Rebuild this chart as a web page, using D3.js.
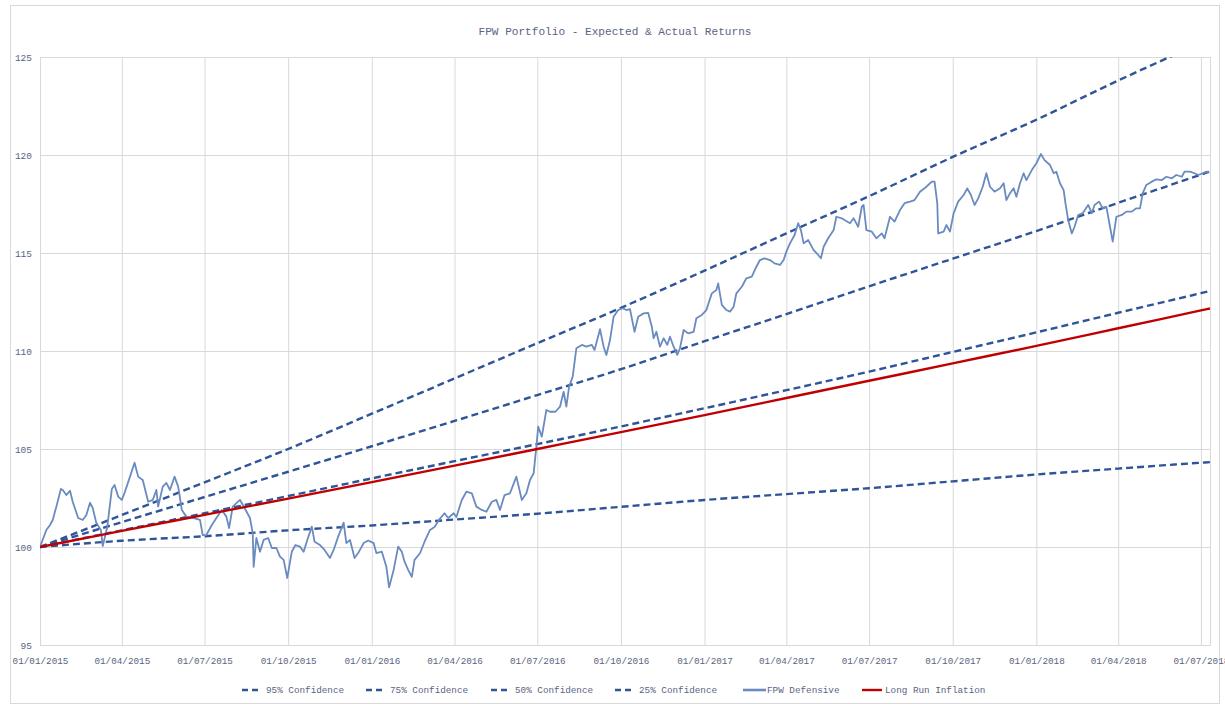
<!DOCTYPE html>
<html>
<head>
<meta charset="utf-8">
<script src="https://cdn.jsdelivr.net/npm/d3@7"></script>
<style>
  body { margin: 0; background: #fff; }
  svg text { font-family: "Liberation Mono", "Courier New", monospace; fill: #5a6482; }
</style>
</head>
<body>
<div id="chart"></div>
<script>
// quarter ticks on the x axis
const quarterLabels = ["01/01/2015", "01/04/2015", "01/07/2015", "01/10/2015",
  "01/01/2016", "01/04/2016", "01/07/2016", "01/10/2016",
  "01/01/2017", "01/04/2017", "01/07/2017", "01/10/2017",
  "01/01/2018", "01/04/2018", "01/07/2018"];
const lastDate = "11/07/2018";
const yTicks = [95, 100, 105, 110, 115, 120, 125];

// expected return bands, one value per quarter + last date
const conf95 = [100, 101.63, 103.3, 105.0, 106.8, 108.6, 110.4, 112.2, 114.1, 116.0, 117.9, 119.9, 121.8, 123.8, 125.7, 125.9];
const conf75 = [100, 101.27, 102.55, 103.84, 105.14, 106.43, 107.75, 109.07, 110.5, 111.88, 113.3, 114.71, 116.12, 117.56, 119.0, 119.16];
const conf50 = [100, 100.85, 101.72, 102.6, 103.5, 104.38, 105.25, 106.15, 107.08, 108.0, 108.95, 109.95, 110.95, 111.95, 112.95, 113.06];
const conf25 = [100, 100.32, 100.55, 100.85, 101.1, 101.4, 101.7, 102.05, 102.4, 102.7, 103.0, 103.35, 103.7, 104.0, 104.3, 104.33];
const inflation = [100, 100.82, 101.64, 102.47, 103.31, 104.15, 105.0, 105.86, 106.73, 107.6, 108.48, 109.37, 110.26, 111.16, 112.07, 112.17];

// FPW Defensive: days since 01/01/2015 and index level
const fpwDays = [0,7,11,14,18,23,25,29,33,36,42,47,51,55,58,62,67,69,74,79,82,86,90,93,99,104,108,113,119,124,128,130,135,139,143,148,152,156,161,168,176,179,183,189,194,200,205,208,212,220,225,231,
  234,235,238,242,246,251,255,260,264,268,272,277,281,286,290,294,299,302,308,313,319,323,328,334,337,341,346,350,356,361,367,370,376,381,384,389,394,398,401,405,409,412,418,423,
  429,434,440,445,449,455,458,464,469,475,480,486,491,497,502,506,511,517,524,530,535,539,543,546,548,552,557,561,567,572,576,579,582,586,590,596,601,607,610,616,620,623,627,631,636,641,645,
  649,654,658,664,669,673,675,678,682,686,690,693,697,701,704,708,713,719,722,728,733,739,744,746,750,755,759,763,766,772,777,783,788,792,797,803,808,814,818,821,825,830,834,837,840,845,851,856,859,862,867,873,876,882,885,891,895,
  900,904,906,909,915,920,926,929,935,940,946,951,957,962,968,973,977,981,984,987,988,994,997,1001,1005,1010,1016,1020,1024,1028,1032,1037,1041,1045,1050,1056,1060,1063,1067,1071,1074,1078,1082,1085,1091,1096,1101,1105,1111,1115,
  1118,1122,1126,1128,1131,1135,1138,1142,1147,1153,1157,1160,1165,1169,1173,1177,1180,1184,1190,1195,1201,1206,1210,1213,1217,1223,1228,1234,1239,1245,1250,1256,1259,1265,1270,1274,1279,1283,1286];
const fpwValues = [100.00,100.87,101.12,101.38,102.06,102.96,102.91,102.65,102.87,102.31,101.48,101.38,101.63,102.26,101.99,101.22,100.87,100.05,101.02,102.96,103.16,102.57,102.40,102.76,103.59,104.30,103.59,103.42,102.31,102.40,102.91,102.06,103.08,103.27,102.91,103.59,103.08,101.89,101.55,101.48,101.38,100.61,100.61,101.12,101.48,101.89,101.55,100.97,102.06,102.40,101.99,101.48,
  100.71,98.99,100.46,99.76,100.36,100.46,99.95,99.95,99.51,99.34,98.42,99.76,100.10,100.02,99.76,100.36,101.04,100.27,100.10,99.85,99.44,99.85,100.53,101.24,100.20,100.36,99.44,99.69,100.20,100.33,100.20,99.69,99.76,98.99,97.94,98.83,100.02,99.76,99.25,98.83,98.48,99.34,99.68,100.27,
  100.87,101.02,101.45,101.72,101.48,101.72,101.53,102.40,102.82,102.74,102.06,101.89,101.80,102.31,102.40,101.89,102.65,102.74,103.59,102.40,102.74,103.42,103.76,105.12,106.14,105.63,106.99,106.90,106.90,107.16,107.92,107.16,108.18,108.69,110.14,110.31,110.22,110.31,110.05,111.11,110.22,109.80,110.56,111.75,112.09,112.18,112.09,
  112.14,110.98,111.75,111.92,111.95,111.24,110.65,110.98,110.22,110.65,110.31,110.73,110.22,109.80,110.14,111.07,110.90,110.98,111.67,111.84,112.09,112.94,113.11,113.45,112.35,112.09,112.01,112.26,112.94,113.28,113.71,113.79,114.30,114.64,114.73,114.64,114.47,114.39,114.64,115.07,115.49,115.92,116.52,116.17,115.49,115.66,115.15,114.90,114.73,115.32,115.75,116.17,116.85,116.77,116.68,116.52,116.77,
  116.34,117.36,117.45,116.17,116.09,115.75,116.00,115.75,116.85,116.60,117.19,117.54,117.62,117.70,118.13,118.30,118.47,118.64,118.64,117.54,116.00,116.09,116.43,116.09,117.03,117.62,117.96,118.30,117.96,117.45,117.79,118.38,119.07,118.38,118.13,118.30,118.56,117.70,118.05,118.30,117.87,118.56,119.07,118.72,119.23,119.58,120.05,119.74,119.49,119.07,
  119.15,118.56,118.21,117.54,116.68,116.00,116.34,116.94,117.03,117.45,117.03,117.45,117.62,117.28,117.36,116.34,115.58,116.85,116.94,117.11,117.11,117.28,117.28,118.05,118.47,118.64,118.76,118.72,118.89,118.81,118.98,118.89,119.15,119.15,119.07,118.98,119.07,119.15,119.12];

const seriesNames = ["95% Confidence", "75% Confidence", "50% Confidence", "25% Confidence", "FPW Defensive", "Long Run Inflation"];

// set up svg
const width = 1225, height = 706;
const plot = { left: 40, right: 1210, top: 57, bottom: 645 };

const svg = d3.select("#chart").append("svg")
    .attr("width", width)
    .attr("height", height);

// chart border
svg.append("rect")
    .attr("x", 10.5).attr("y", 5.5)
    .attr("width", 1209).attr("height", 698)
    .attr("fill", "#fff")
    .attr("stroke", "#d9d9d9");

const parseDate = d3.timeParse("%d/%m/%Y");
const quarterDates = quarterLabels.map(parseDate);
const start = quarterDates[0];
const bandDates = quarterDates.concat([parseDate(lastDate)]);

const x = d3.scaleTime()
    .domain([start, parseDate(lastDate)])
    .range([plot.left, plot.right]);
const y = d3.scaleLinear()
    .domain([95, 125])
    .range([plot.bottom, plot.top]);

// gridlines + axes
const yAxis = svg.append("g")
    .attr("transform", "translate(" + plot.left + ",0)")
    .call(d3.axisLeft(y).tickValues(yTicks).tickSize(-(plot.right - plot.left)).tickPadding(8));
yAxis.select(".domain").attr("stroke", "#d9d9d9");
yAxis.selectAll(".tick line").attr("stroke", "#d9d9d9");
yAxis.selectAll(".tick text").style("font-size", "9.5px");

const xAxis = svg.append("g")
    .attr("transform", "translate(0," + plot.bottom + ")")
    .call(d3.axisBottom(x).tickValues(quarterDates)
        .tickFormat(d3.timeFormat("%d/%m/%Y"))
        .tickSize(-(plot.bottom - plot.top)).tickPadding(12));
xAxis.select(".domain").attr("stroke", "#d9d9d9");
xAxis.selectAll(".tick line").attr("stroke", "#d9d9d9");
xAxis.selectAll(".tick text").style("font-size", "9.3px");

// title
svg.append("text")
    .attr("x", 615).attr("y", 35)
    .attr("text-anchor", "middle")
    .style("font-size", "11.1px")
    .text("FPW Portfolio - Expected & Actual Returns");

// clip lines to the plot
svg.append("clipPath").attr("id", "plotClip")
  .append("rect")
    .attr("x", plot.left).attr("y", plot.top)
    .attr("width", plot.right - plot.left).attr("height", plot.bottom - plot.top);

const lines = svg.append("g").attr("clip-path", "url(#plotClip)");

const bandLine = d3.line()
    .x(function(d) { return x(d[0]); })
    .y(function(d) { return y(d[1]); })
    .curve(d3.curveMonotoneX);

const dashColor = "#2f5597";
[conf95, conf75, conf50, conf25].forEach(function(vals) {
    lines.append("path")
        .datum(d3.zip(bandDates, vals))
        .attr("d", bandLine)
        .attr("fill", "none")
        .attr("stroke", dashColor)
        .attr("stroke-width", 2.4)
        .attr("stroke-dasharray", "7,4");
});

// actual portfolio
const fpwData = d3.zip(fpwDays.map(function(d) { return d3.timeDay.offset(start, d); }), fpwValues);
lines.append("path")
    .datum(fpwData)
    .attr("d", d3.line().x(function(d) { return x(d[0]); }).y(function(d) { return y(d[1]); }))
    .attr("fill", "none")
    .attr("stroke", "#6a8bc0")
    .attr("stroke-width", 1.8)
    .attr("stroke-linejoin", "round");

// inflation
lines.append("path")
    .datum(d3.zip(bandDates, inflation))
    .attr("d", bandLine)
    .attr("fill", "none")
    .attr("stroke", "#c00000")
    .attr("stroke-width", 2.4);

// legend
const legendX = [242, 366, 491, 615, 743, 862];
const legend = svg.append("g");
seriesNames.forEach(function(name, i) {
    const g = legend.append("g").attr("transform", "translate(" + legendX[i] + ",690)");
    if (i < 4) {
        g.append("line").attr("x1", 0).attr("x2", 16).attr("y1", 0).attr("y2", 0)
            .attr("stroke", dashColor).attr("stroke-width", 2.4).attr("stroke-dasharray", "6,4");
        g.append("text").attr("x", 24).attr("y", 3.3).style("font-size", "9.3px").text(name);
    } else {
        g.append("line").attr("x1", 0).attr("x2", i == 4 ? 23 : 20).attr("y1", 0).attr("y2", 0)
            .attr("stroke", i == 4 ? "#6a8bc0" : "#c00000").attr("stroke-width", i == 4 ? 2.6 : 2.4);
        g.append("text").attr("x", i == 4 ? 24 : 23).attr("y", 3.3).style("font-size", "9.3px").text(name);
    }
});
</script>
</body>
</html>
